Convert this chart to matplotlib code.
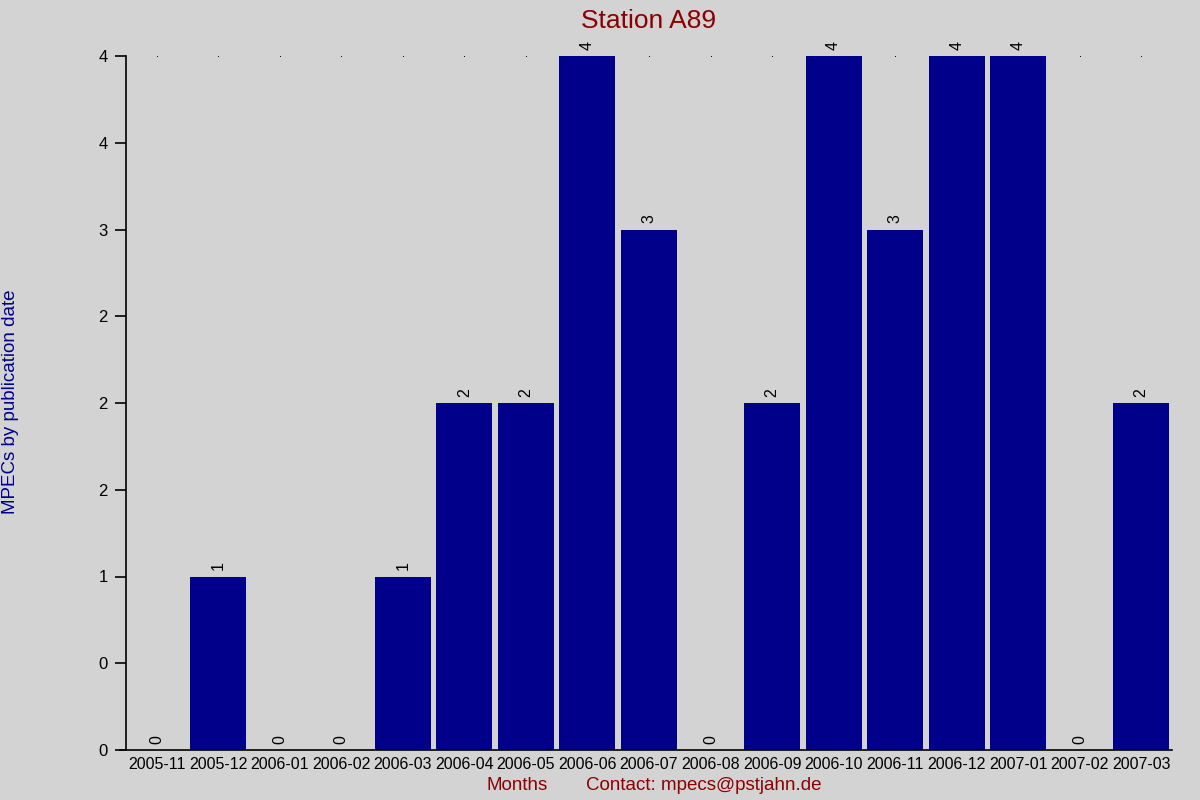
import numpy as np
import matplotlib
matplotlib.use('Agg')
from matplotlib import pyplot as plt
from matplotlib.ticker import FuncFormatter

months = ['2005-11', '2005-12', '2006-01', '2006-02', '2006-03', '2006-04',
          '2006-05', '2006-06', '2006-07', '2006-08', '2006-09', '2006-10',
          '2006-11', '2006-12', '2007-01', '2007-02', '2007-03']
counts = [0, 1, 0, 0, 1, 2, 2, 4, 3, 0, 2, 4, 3, 4, 4, 0, 2]
yticks = [0, 0.5, 1, 1.5, 2, 2.5, 3, 3.5, 4]

bg = '#d3d3d3'
plt.rcParams['font.family'] = ['Liberation Sans', 'DejaVu Sans']

fig = plt.figure(figsize=(12, 8), dpi=100, facecolor=bg)
ax = fig.add_axes([126/1200, 1 - 750/800, (1172-126)/1200, (750-56)/800])
ax.set_facecolor(bg)

x = np.arange(len(months))
# little dots along the top line
ax.plot(x, [max(yticks)] * len(x), ls='none', marker='s', ms=0.6, mew=0,
        color='black', zorder=1)
bars = ax.bar(x, counts, width=0.91, color='#00008b', zorder=2)

for xi, c in zip(x, counts):
    ax.annotate(str(c), (xi, c), xytext=(0, 4.5), textcoords='offset points',
                ha='center', va='bottom', rotation=90, fontsize=11.5, color='black')

ax.set_xlim(-0.5, len(months) - 0.5)
ax.set_ylim(0, 4)
ax.set_xticks(x)
ax.set_xticklabels(months, fontsize=11.5)
ax.set_yticks(yticks)
ax.yaxis.set_major_formatter(FuncFormatter(lambda v, p: f"{round(v)}"))
ax.tick_params(axis='x', length=0, pad=5)
ax.tick_params(axis='y', length=8, width=1.2, labelsize=12, pad=5)

for s in ['top', 'right']:
    ax.spines[s].set_visible(False)
for s in ['left', 'bottom']:
    ax.spines[s].set_linewidth(1.2)
ax.spines['bottom'].set_bounds(-0.6, len(months) - 0.5)

ax.set_title('Station A89', color='#8b0000', fontsize=19, pad=20)
fig.text(11/1200, 1 - 402/800, 'MPECs by publication date', rotation=90,
         ha='center', va='center', color='#00008b', fontsize=13.5)
fig.text(517/1200, 1 - 786/800, 'Months', ha='center', va='center',
         color='#8b0000', fontsize=13.5)
fig.text(704/1200, 1 - 786/800, 'Contact: mpecs@pstjahn.de', ha='center', va='center',
         color='#8b0000', fontsize=13.5)

fig.savefig('out.png', dpi=100, facecolor=bg)
